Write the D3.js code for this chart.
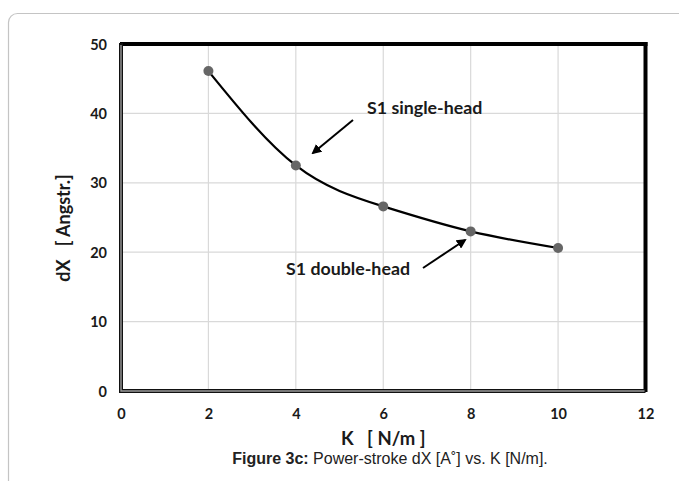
<!DOCTYPE html>
<html><head><meta charset="utf-8">
<script src="https://cdn.jsdelivr.net/npm/d3@7"></script>
<style>
html,body{margin:0;padding:0;background:#fff;}
svg{display:block;}
</style></head>
<body>
<svg id="c" width="679" height="481"></svg>
<script>
const kValues = [2, 4, 6, 8, 10];
const dxValues = [46.1, 32.5, 26.6, 23.0, 20.6];
const xTicks = [0, 2, 4, 6, 8, 10, 12];
const yTicks = [0, 10, 20, 30, 40, 50];
const xTitle = "K   [ N/m ]";
const yTitle = "dX   [ Angstr.]";
const annotations = [
  {text: "S1 single-head", tx: 367, ty: 114, x1: 353, y1: 120, x2: 313, y2: 153},
  {text: "S1 double-head", tx: 286, ty: 275, x1: 423, y1: 268, x2: 465, y2: 240}
];

const svg = d3.select("#c");
const font = "Lato, 'Open Sans', sans-serif";

// outer frame
svg.append("rect").attr("x", 8.5).attr("y", 13.5).attr("width", 700).attr("height", 500)
  .attr("rx", 9).attr("fill", "none").attr("stroke", "#c4c4c4").attr("stroke-width", 1.2);

const L = 121, R = 645.5, T = 44, B = 391;
const x = d3.scaleLinear().domain([0, 12]).range([L, R]);
const y = d3.scaleLinear().domain([0, 50]).range([B, T]);

// grid
const g = svg.append("g");
g.selectAll(".vg").data(xTicks.filter(d => d > 0 && d < 12)).enter().append("line")
  .attr("x1", d => x(d)).attr("x2", d => x(d)).attr("y1", T).attr("y2", B)
  .attr("stroke", "#d9d9d9").attr("stroke-width", 1.2);
g.selectAll(".hg").data(yTicks.filter(d => d > 0 && d < 50)).enter().append("line")
  .attr("y1", d => y(d)).attr("y2", d => y(d)).attr("x1", L).attr("x2", R)
  .attr("stroke", "#d9d9d9").attr("stroke-width", 1.2);

// axes (labels only)
const xAxis = d3.axisBottom(x).tickValues(xTicks).tickSize(0).tickPadding(0).tickFormat(d3.format("d"));
const xa = svg.append("g").attr("transform", `translate(0,${B + 28})`).call(xAxis);
xa.select(".domain").remove();
xa.selectAll("text").attr("dy", 0).attr("font-family", font).attr("font-weight", "bold")
  .attr("font-size", 14.5).attr("fill", "#1a1a1a");

const yAxis = d3.axisLeft(y).tickValues(yTicks).tickSize(0).tickPadding(0).tickFormat(d3.format("d"));
const ya = svg.append("g").attr("transform", `translate(${L - 14},0)`).call(yAxis);
ya.select(".domain").remove();
ya.selectAll("text").attr("dy", "0.35em").attr("font-family", font).attr("font-weight", "bold")
  .attr("font-size", 14.5).attr("fill", "#1a1a1a");

// plot frame: top & right thick black, left & bottom double line
svg.append("line").attr("x1", L - 1).attr("x2", R + 2).attr("y1", T).attr("y2", T)
  .attr("stroke", "#000").attr("stroke-width", 4);
svg.append("line").attr("x1", R).attr("x2", R).attr("y1", T - 2).attr("y2", B + 1)
  .attr("stroke", "#000").attr("stroke-width", 4);
svg.append("path").attr("d", `M${L},${T - 1}V${B}H${R}`).attr("fill", "none")
  .attr("stroke", "#111").attr("stroke-width", 4);
svg.append("path").attr("d", `M${L},${T + 1}V${B}H${R - 1}`).attr("fill", "none")
  .attr("stroke", "#9a9a9a").attr("stroke-width", 1.4);

// curve
const pts = kValues.map((k, i) => [k, dxValues[i]]);
const line = d3.line().x(d => x(d[0])).y(d => y(d[1])).curve(d3.curveNatural);
svg.append("path").datum(pts).attr("d", line).attr("fill", "none")
  .attr("stroke", "#000").attr("stroke-width", 2.2);
svg.selectAll(".pt").data(pts).enter().append("circle")
  .attr("cx", d => x(d[0])).attr("cy", d => y(d[1])).attr("r", 5)
  .attr("fill", "#666");

// axis titles
svg.append("text").attr("x", (L + R) / 2).attr("y", 445).attr("text-anchor", "middle")
  .attr("font-family", font).attr("font-weight", "bold").attr("font-size", 18.5)
  .style("white-space", "pre").attr("fill", "#1a1a1a").text(xTitle);
svg.append("text").attr("transform", `translate(70,228) rotate(-90)`).attr("text-anchor", "middle")
  .attr("font-family", font).attr("font-weight", "bold").attr("font-size", 18)
  .style("white-space", "pre").attr("fill", "#1a1a1a").text(yTitle);

// annotations
const defs = svg.append("defs");
defs.append("marker").attr("id", "ah").attr("viewBox", "0 0 10 10").attr("refX", 8).attr("refY", 5)
  .attr("markerWidth", 5).attr("markerHeight", 5).attr("orient", "auto")
  .append("path").attr("d", "M0,0L10,5L0,10z").attr("fill", "#000");
annotations.forEach(a => {
  svg.append("text").attr("x", a.tx).attr("y", a.ty).attr("font-family", font)
    .attr("font-weight", "bold").attr("font-size", 17.8).attr("fill", "#1a1a1a").text(a.text);
  svg.append("line").attr("x1", a.x1).attr("y1", a.y1).attr("x2", a.x2).attr("y2", a.y2)
    .attr("stroke", "#000").attr("stroke-width", 2).attr("marker-end", "url(#ah)");
});

// caption
const cap = svg.append("text").attr("x", 390).attr("y", 464).attr("text-anchor", "middle")
  .attr("font-family", "'Liberation Sans', Arial, sans-serif").attr("font-size", 16).attr("fill", "#222");
cap.append("tspan").attr("font-weight", "bold").text("Figure 3c:");
cap.append("tspan").text(" Power-stroke dX [A˚] vs. K [N/m].");
</script>
</body></html>
